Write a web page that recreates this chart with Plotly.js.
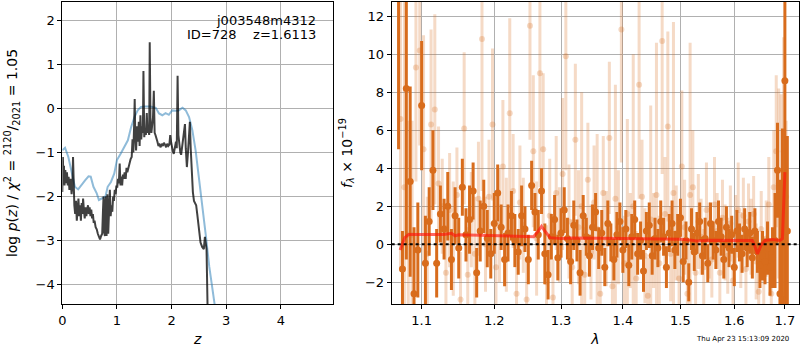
<!DOCTYPE html>
<html><head><meta charset="utf-8">
<script src="https://cdn.plot.ly/plotly-3.0.1.min.js"></script>
<style>body{margin:0;padding:0;background:#fff}#chart{width:800px;height:350px}</style>
</head><body><div id="chart"></div>
<script>
// ---- Left panel: log p(z) ----
const zDark = [0.00,0.01,0.02,0.03,0.04,0.055,0.07,0.085,0.10,0.115,0.13,0.15,0.17,0.185,0.196,0.205,0.22,0.235,0.25,0.265,0.28,0.295,0.31,0.325,0.34,0.355,0.37,0.38,0.395,0.41,0.425,0.44,0.455,0.47,0.485,0.50,0.515,0.53,0.545,0.56,0.575,0.59,0.61,0.63,0.65,0.67,0.69,0.71,0.73,0.745,0.755,0.765,0.78,0.79,0.80,0.81,0.825,0.84,0.855,0.87,0.885,0.90,0.915,0.93,0.945,0.96,0.975,0.99,1.005,1.02,1.035,1.05,1.065,1.08,1.095,1.11,1.125,1.14,1.16,1.175,1.19,1.21,1.23,1.25,1.27,1.285,1.30,1.315,1.325,1.335,1.35,1.37,1.385,1.40,1.415,1.43,1.445,1.46,1.475,1.485,1.50,1.515,1.53,1.546,1.56,1.575,1.59,1.60,1.615,1.63,1.645,1.66,1.675,1.69,1.705,1.72,1.74,1.76,1.78,1.80,1.82,1.84,1.86,1.88,1.90,1.92,1.94,1.96,1.975,1.99,2.005,2.02,2.04,2.06,2.08,2.095,2.11,2.125,2.14,2.16,2.175,2.19,2.21,2.23,2.245,2.26,2.28,2.30,2.32,2.335,2.35,2.37,2.39,2.41,2.43,2.45,2.47,2.49,2.51,2.53,2.56,2.59,2.61,2.625,2.64,2.66,2.70];
const pDark = [-1.9,-1.1,-1.6,-1.3,-1.75,-1.4,-1.7,-1.45,-1.75,-1.55,-1.85,-1.6,-1.95,-1.75,-1.1,-1.9,-2.2,-2.4,-2.1,-2.55,-2.3,-2.05,-2.45,-2.2,-2.55,-2.15,-2.4,-2.05,-2.3,-2.5,-2.25,-2.45,-2.3,-2.2,-2.4,-2.25,-2.45,-2.3,-2.5,-2.4,-2.6,-2.55,-2.7,-2.75,-2.85,-2.95,-2.98,-2.9,-2.85,-2.3,-2.0,-2.8,-2.9,-2.1,-2.0,-2.9,-1.95,-2.85,-2.3,-1.85,-2.45,-2.2,-2.35,-2.0,-2.1,-1.85,-1.95,-1.75,-1.8,-1.6,-1.7,-1.25,-1.75,-1.55,-1.75,-1.5,-1.6,-1.45,-1.6,-1.35,-1.45,-1.3,-1.25,-1.15,-1.1,-0.7,-1.0,-0.35,0.22,-0.6,-0.95,-0.4,-0.75,-0.3,-0.85,-0.15,-0.7,-0.4,-0.55,0.86,-0.65,-0.45,-0.6,-0.1,-0.55,-0.45,-0.6,1.51,-0.45,-0.55,-0.3,-0.2,0.41,-0.55,-0.6,-0.7,-0.75,-0.85,-0.82,-0.88,-0.8,-0.85,-0.78,-0.82,-0.88,-0.8,-0.85,-0.82,-0.6,-0.75,-0.9,-0.95,-1.03,-0.85,-0.75,-0.9,0.75,-0.6,-0.8,-1.0,-1.05,-0.9,-0.8,-0.6,-0.35,-0.9,-1.33,-1.0,-0.5,-0.3,-0.9,-1.45,-1.9,-2.1,-2.15,-2.2,-2.4,-2.6,-2.9,-3.05,-3.15,-3.2,-2.92,-3.1,-3.2,-4.6,-6.0];
const zBlue = [0.0,0.05,0.11,0.17,0.23,0.29,0.36,0.42,0.48,0.52,0.57,0.63,0.67,0.72,0.79,0.83,0.89,0.95,1.0,1.07,1.13,1.2,1.26,1.32,1.38,1.44,1.52,1.61,1.71,1.77,1.83,1.89,1.95,2.01,2.07,2.13,2.2,2.26,2.32,2.38,2.44,2.5,2.56,2.63,2.69,2.75,2.79,2.85];
const pBlue = [-0.95,-0.89,-1.1,-1.48,-1.78,-1.84,-1.74,-1.63,-1.54,-1.55,-1.78,-1.93,-2.08,-2.05,-2.0,-1.78,-1.67,-1.48,-1.17,-1.02,-0.87,-0.72,-0.42,-0.19,-0.04,0.04,0.05,0.05,0.02,-0.11,-0.15,-0.10,-0.14,-0.04,-0.05,-0.04,0.02,-0.04,-0.19,-0.49,-0.95,-1.55,-2.23,-2.92,-3.6,-4.2,-4.5,-5.0];

// ---- Right panel: spectrum ----
const lamDark = [1.070,1.075,1.080,1.085,1.090,1.095,1.100,1.105,1.110,1.115,1.120,1.125,1.130,1.135,1.140,1.145,1.150,1.155,1.160,1.165,1.170,1.175,1.180,1.185,1.190,1.195,1.200,1.205,1.210,1.215,1.220,1.225,1.230,1.235,1.240,1.245,1.250,1.255,1.260,1.265,1.270,1.275,1.280,1.285,1.290,1.295,1.300,1.305,1.310,1.315,1.320,1.325,1.330,1.335,1.340,1.345,1.350,1.355,1.360,1.365,1.370,1.375,1.380,1.385,1.390,1.395,1.400,1.405,1.410,1.415,1.420,1.425,1.430,1.435,1.440,1.445,1.450,1.455,1.460,1.465,1.470,1.475,1.480,1.485,1.490,1.495,1.500,1.505,1.510,1.515,1.520,1.525,1.530,1.535,1.540,1.545,1.550,1.555,1.560,1.565,1.570,1.575,1.580,1.585,1.590,1.595,1.600,1.605,1.610,1.615,1.620,1.625,1.630,1.635,1.640,1.645,1.650,1.655,1.660,1.665,1.670,1.675,1.680,1.685,1.690,1.695,1.700,1.705];
const fDark = [14,-1.3,8.2,3.3,-2.6,-0.3,7.3,-1.0,1.2,3.9,-1.0,1.6,0.8,2.0,-0.8,1.5,-0.2,3.0,0.5,1.3,2.8,-1.5,0.7,2.0,0.3,-0.5,1.1,2.7,0.9,-0.8,0.6,1.5,0.2,-0.4,1.5,0.8,-0.8,3.1,1.7,0.5,2.8,-0.5,-1.6,0.4,1.3,-0.7,0.6,1.8,0.3,-0.9,1.0,0.2,-1.5,1.5,0.4,-0.6,0.9,1.7,-0.2,0.6,-1.2,1.1,0.1,-0.8,0.5,1.2,-0.3,0.8,-1.1,0.4,1.3,-0.5,0.2,-1.4,0.7,1.0,-0.6,0.3,-0.2,1.2,0.4,-1.2,0.6,1.1,-0.3,0.5,1.4,-0.9,0.2,-2.0,0.8,-0.4,0.6,1.2,-0.6,0.3,-1.0,1.1,0.2,-0.3,1.2,0.4,-0.8,0.9,-0.2,0.5,-1.2,0.7,0.1,-0.5,0.8,-0.2,0.6,-0.7,0.7,-0.4,-1.1,-0.6,-0.9,-0.2,-1.2,-0.7,0.2,3.9,-2.6,-2.9,8.6,0.7];
const eDark = [9,2.0,9.0,5.0,3.5,2.5,3.4,2.5,1.8,2.1,1.8,1.5,1.6,1.8,1.6,1.5,1.6,1.5,1.4,1.8,1.5,1.3,1.6,1.4,1.5,1.3,1.6,1.5,1.2,1.4,1.5,1.3,1.4,1.2,1.6,1.2,1.3,1.3,1.0,1.3,1.2,1.6,1.3,1.2,1.3,1.2,1.3,1.2,1.1,1.2,1.3,1.1,1.2,1.1,1.0,1.1,1.2,1.0,1.1,1.2,1.0,1.2,1.0,1.1,1.2,1.0,1.2,1.0,1.1,1.2,1.0,1.1,1.0,1.1,1.0,1.2,1.0,1.1,1.0,1.1,1.0,1.1,1.0,1.2,1.0,1.1,1.0,1.1,1.0,1.0,1.1,1.0,1.1,1.0,1.0,1.1,1.0,1.1,1.0,1.0,1.1,1.0,1.0,1.1,1.0,1.0,1.0,1.1,1.0,1.0,1.1,1.0,1.1,1.1,1.2,1.1,1.2,1.3,1.2,1.4,1.5,1.6,2.5,2.5,6.0,9,12,5];

const lamLight = [1.0725,1.0775,1.0825,1.0875,1.0925,1.0975,1.1025,1.1075,1.1125,1.1175,1.1225,1.1275,1.1325,1.1375,1.1425,1.1475,1.1525,1.1575,1.1625,1.1675,1.1725,1.1775,1.1825,1.1875,1.1925,1.1975,1.2025,1.2075,1.2125,1.2175,1.2225,1.2275,1.2325,1.2375,1.2425,1.2475,1.2525,1.2575,1.2625,1.2675,1.2725,1.2775,1.2825,1.2875,1.2925,1.2975,1.3025,1.3075,1.3125,1.3175,1.3225,1.3275,1.3325,1.3375,1.3425,1.3475,1.3525,1.3575,1.3625,1.3675,1.3725,1.3775,1.3825,1.3875,1.3925,1.3975,1.4025,1.4075,1.4125,1.4175,1.4225,1.4275,1.4325,1.4375,1.4425,1.4475,1.4525,1.4575,1.4625,1.4675,1.4725,1.4775,1.4825,1.4875,1.4925,1.4975,1.5025,1.5075,1.5125,1.5175,1.5225,1.5275,1.5325,1.5375,1.5425,1.5475,1.5525,1.5575,1.5625,1.5675,1.5725,1.5775,1.5825,1.5875,1.5925,1.5975,1.6025,1.6075,1.6125,1.6175,1.6225,1.6275,1.6325,1.6375,1.6425,1.6475,1.6525,1.6575,1.6625,1.6675,1.6725,1.6775,1.6825,1.6875,1.6925,1.6975,1.7025];
const fLight = [6.6,3.0,0.5,0.5,9.3,10.2,5.0,-0.5,6.3,7.1,3.2,2.0,-1.5,1.8,0.3,2.6,-2.9,6.1,-1.6,1.3,-0.5,2.4,10.8,0.0,2.5,6.3,-1.2,1.0,4.1,0.5,6.9,2.8,-2.6,2.2,1.0,-2.9,11.5,4.9,0.3,9.0,5.0,-2.0,1.5,-2.8,2.7,0.5,3.7,9.9,1.2,-1.2,5.5,0.9,2.0,-1.6,3.4,-0.4,2.2,0.8,-2.6,2.7,0.3,5.6,-2.2,2.4,0.9,11.3,-1.0,1.6,0.2,2.0,-1.8,8.4,2.5,-0.6,-2.7,1.3,0.2,2.6,-1.0,10.7,1.6,6.2,-0.5,2.7,0.6,-1.8,4.1,0.9,-2.6,2.6,3.0,-1.5,1.2,0.4,-1.2,1.8,0.2,-0.8,2.1,0.7,-1.5,1.4,0.1,-0.6,1.1,-1.9,0.6,1.8,-0.3,1.5,-1.3,1.2,0.4,1.6,-0.9,-2.5,0.8,-1.6,0.3,2.1,-2.6,3.0,4.9,3.2,2.9,4.9,2.5];
const eLight = [8,10,6,6,6,5,6,3,5,5,3,2.5,2.5,3,3,2.5,2.5,4,2.5,2.5,3,3,8,2.5,3,4,2.5,3,3.5,3,5,3,2,3,2.5,2,6,4,3,6,4,3,3,2,3,2.5,4,6,3,2.5,4,3,6,2.5,3,2.5,3,5,2.5,3,2.5,4,2.5,6,3,7,2.5,5,2.5,8,2.5,6,3,2.5,2,6,2.5,8,2.5,7,3,5,2.5,9,2.5,2.5,4,2.5,2.5,8,3,2,2.5,2,2,2.5,2,2,2.5,2,2,2,2,2,2,2,2,2.5,2,2,2,2,2,2,2,2,2,2,2,2.5,2.5,3,4,5,5,6,4];

const lamModel = [1.072,1.078,1.083,1.10,1.13,1.14,1.145,1.15,1.20,1.25,1.258,1.265,1.27,1.275,1.283,1.30,1.32,1.40,1.50,1.52,1.53,1.55,1.60,1.635,1.64,1.645,1.652,1.66,1.675,1.69,1.695,1.698,1.70];
const fModel = [-0.3,0.35,0.52,0.52,0.52,0.58,0.45,0.5,0.45,0.4,0.4,0.7,0.95,0.7,0.35,0.3,0.33,0.3,0.27,0.22,0.17,0.22,0.22,0.2,-0.1,-0.5,-0.05,0.2,0.25,0.2,0.3,2.0,3.8];

const xTicksR = [1.1,1.2,1.3,1.4,1.5,1.6,1.7];

const dark = 'rgb(216,108,28)';
const light = 'rgba(216,108,28,0.25)';
const FONT = 'DejaVu Sans, sans-serif';

const traces = [
  {x:zBlue, y:pBlue, mode:'lines', line:{color:'rgba(31,119,180,0.5)', width:2}, xaxis:'x', yaxis:'y', hoverinfo:'skip'},
  {x:zDark, y:pDark, mode:'lines', line:{color:'rgba(0,0,0,0.75)', width:2}, xaxis:'x', yaxis:'y', hoverinfo:'skip'},
  {x:lamLight, y:fLight, mode:'markers', marker:{color:light, size:6},
   error_y:{type:'data', array:eLight, color:light, thickness:3, width:0}, xaxis:'x2', yaxis:'y2'},
  {x:lamDark, y:fDark, mode:'markers', marker:{color:dark, size:7},
   error_y:{type:'data', array:eDark, color:dark, thickness:3, width:0}, xaxis:'x2', yaxis:'y2'},
  {x:lamModel, y:fModel, mode:'lines', line:{color:'rgba(255,20,10,0.65)', width:3}, xaxis:'x2', yaxis:'y2'}
];

const axBase = {showline:true, linecolor:'black', linewidth:1, mirror:true, ticks:'outside', ticklen:4, tickcolor:'black',
  showgrid:true, gridcolor:'#b0b0b0', gridwidth:1, zeroline:false, tickfont:{family:FONT, size:13, color:'black'}};

const layout = {
  width:800, height:350, margin:{l:0,r:0,t:0,b:0}, showlegend:false,
  paper_bgcolor:'white', plot_bgcolor:'white', font:{family:FONT, color:'black'},
  xaxis: Object.assign({}, axBase, {domain:[0.0779,0.4166], range:[0,4.96], dtick:1, anchor:'y',
    title:{text:'<i>z</i>', font:{family:FONT, size:14}, standoff:7}}),
  yaxis: Object.assign({}, axBase, {domain:[46/350, 348/350], range:[-4.45,2.43], dtick:1, anchor:'x',
    title:{text:'log <i>p</i>(<i>z</i>) / <i>χ</i><sup>2</sup> = <sup>2120</sup>/<sub>2021</sub> = 1.05', font:{family:FONT, size:14}, standoff:14}}),
  xaxis2: Object.assign({}, axBase, {domain:[0.4896,0.999], type:'log', range:[0.0258,0.2379], anchor:'y2',
    tickmode:'array', tickvals:xTicksR, ticktext:xTicksR.map(v=>v.toFixed(1)),
    title:{text:'<i>λ</i>', font:{family:FONT, size:14}, standoff:7}}),
  yaxis2: Object.assign({}, axBase, {domain:[46/350, 348/350], range:[-3.14,12.75], dtick:2, anchor:'x2',
    title:{text:'<i>f</i><sub><i>λ</i></sub> × 10<sup>−19</sup>', font:{family:FONT, size:14}, standoff:9}}),
  shapes:[{type:'line', xref:'x2 domain', yref:'y2', x0:0, x1:1, y0:0, y1:0, layer:'above',
    line:{color:'black', width:2, dash:'dot'}}],
  annotations:[
    {xref:'paper', yref:'paper', x:318/800, y:1-20/350, xanchor:'right', yanchor:'middle', showarrow:false,
     text:'j003548m4312', font:{family:FONT, size:13}},
    {xref:'paper', yref:'paper', x:318/800, y:1-35/350, xanchor:'right', yanchor:'middle', showarrow:false,
     text:'ID=728&nbsp;&nbsp;&nbsp;&nbsp;z=1.6113', font:{family:FONT, size:13}},
    {xref:'paper', yref:'paper', x:742/800, y:1-339/350, xanchor:'center', yanchor:'middle', showarrow:false,
     text:'Thu Apr 23 15:13:09 2020', font:{family:FONT, size:7}}
  ]
};
Plotly.newPlot('chart', traces, layout, {staticPlot:true, displayModeBar:false});
</script></body></html>
